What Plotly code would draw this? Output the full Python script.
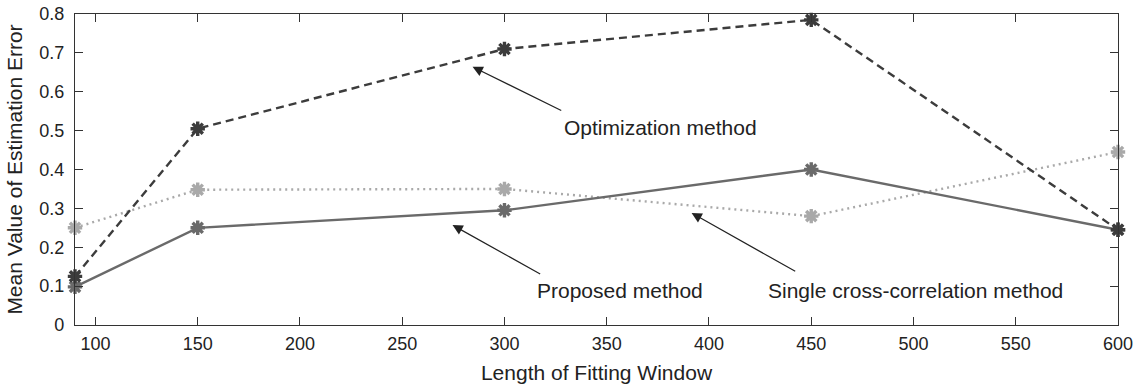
import plotly.graph_objects as go

# Fitting window lengths
window = [90, 150, 300, 450, 600]

# Mean estimation error for each method
optimization = [0.125, 0.505, 0.71, 0.785, 0.245]
proposed = [0.098, 0.25, 0.295, 0.40, 0.245]
single_xcorr = [0.25, 0.348, 0.35, 0.28, 0.445]

x_ticks = [100, 150, 200, 250, 300, 350, 400, 450, 500, 550, 600]
y_ticks = [0, 0.1, 0.2, 0.3, 0.4, 0.5, 0.6, 0.7, 0.8]
y_tick_text = ["0", "0.1", "0.2", "0.3", "0.4", "0.5", "0.6", "0.7", "0.8"]

FONT = "Liberation Sans, Arial, Helvetica, sans-serif"

fig = go.Figure()


def add_series(y, color, dash, width):
    fig.add_trace(go.Scatter(
        x=window, y=y, mode="lines+markers",
        line=dict(color=color, dash=dash, width=width),
        marker=dict(symbol="asterisk-open", size=12,
                    line=dict(color=color, width=3.4)),
        showlegend=False, cliponaxis=False,
    ))


add_series(single_xcorr, "#a9a9a9", "2px,4px", 2.4)
add_series(proposed, "#6a6a6a", "solid", 2.4)
add_series(optimization, "#3c3c3c", "8px,5px", 2.4)

# Arrows pointing at each curve, and the method labels
arrows = [
    ((328.5, 0.550), (284.4, 0.664)),
    ((318.2, 0.129), (274.6, 0.257)),
    ((442.9, 0.136), (391.5, 0.288)),
]
for (x0, y0), (x1, y1) in arrows:
    fig.add_annotation(
        x=x1, y=y1, ax=x0, ay=y0, xref="x", yref="y", axref="x", ayref="y",
        text="", showarrow=True, arrowhead=2, arrowsize=1.7, arrowwidth=1.2,
        arrowcolor="#222222", standoff=0, startstandoff=0,
    )

labels = [
    (376.2, 0.507, "Optimization method"),
    (356.3, 0.090, "Proposed method"),
    (500.9, 0.090, "Single cross-correlation method"),
]
for x, y, t in labels:
    fig.add_annotation(x=x, y=y, xref="x", yref="y", text=t, showarrow=False,
                       font=dict(family=FONT, size=21, color="#222222"))

axis_common = dict(
    showline=True, linecolor="#333333", linewidth=1.2, mirror="ticks",
    ticks="inside", ticklen=8, tickwidth=1.2, tickcolor="#333333",
    showgrid=False, zeroline=False, automargin=False,
    tickfont=dict(family=FONT, size=18, color="#222222"),
)

fig.update_xaxes(
    range=[90, 600], tickvals=x_ticks, ticklabelstandoff=2,
    title=dict(text="Length of Fitting Window", standoff=12,
               font=dict(family=FONT, size=21, color="#222222")),
    **axis_common,
)
fig.update_yaxes(
    range=[0, 0.8], tickvals=y_ticks, ticktext=y_tick_text,
    ticklabelstandoff=6,
    title=dict(text="Mean Value of Estimation Error", standoff=10,
               font=dict(family=FONT, size=21, color="#222222")),
    **axis_common,
)

fig.update_layout(
    width=1138, height=389,
    margin=dict(l=75, r=20, t=14, b=64),
    plot_bgcolor="white", paper_bgcolor="white",
)

fig.write_html("out.html")
